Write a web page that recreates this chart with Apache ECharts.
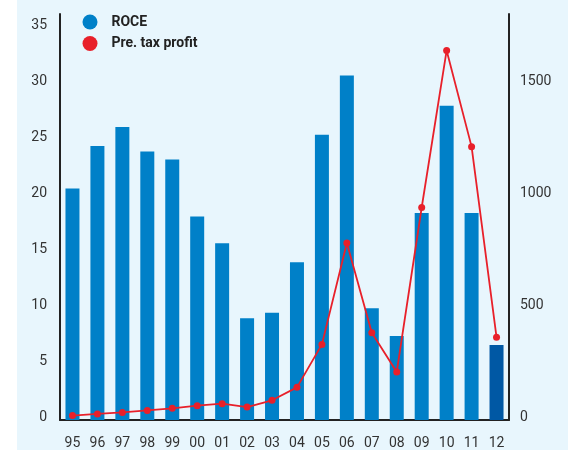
<!DOCTYPE html>
<html>
<head>
<meta charset="utf-8">
<script src="https://cdn.jsdelivr.net/npm/echarts@6/dist/echarts.min.js"></script>
<style>
  html, body { margin: 0; padding: 0; background: #fff; }
  #chart {
    width: 578px;
    height: 450px;
    background: linear-gradient(to right, #fff 0, #fff 17px, #e8f6fd 17px, #e8f6fd 568px, #fff 568px);
  }
</style>
</head>
<body>
<div id="chart"></div>
<script>
const years = ['95', '96', '97', '98', '99', '00', '01', '02', '03', '04', '05', '06', '07', '08', '09', '10', '11', '12']
const roce = [20.7, 24.5, 26.2, 24.0, 23.3, 18.2, 15.8, 9.1, 9.6, 14.1, 25.5, 30.8, 10.0, 7.5, 18.5, 28.1, 18.5, 6.7]
const profit = [20, 27, 34, 43, 52, 64, 73, 58, 88, 146, 338, 791, 390, 215, 950, 1652, 1222, 370]

const font = 'Roboto, "Liberation Sans", sans-serif'

let myChart = echarts.init(document.getElementById('chart'))

// labels in the original sit a few px above their ticks
const axisLabel = (margin) => ({
  showMaxLabel: false,
  margin: margin,
  fontSize: 14,
  color: '#333',
  fontFamily: font,
  verticalAlign: 'bottom',
  lineHeight: 6,
  formatter: (v) => String(v)
})

let option = {
  backgroundColor: 'transparent',
  animation: false,
  textStyle: { fontFamily: font },
  legend: {
    orient: 'vertical',
    left: 82.5,
    top: 14.5,
    padding: 0,
    itemWidth: 15,
    itemHeight: 15,
    itemGap: 6.5,
    icon: 'circle',
    formatter: (name) => '{t|' + name + '}',
    textStyle: {
      fontFamily: font,
      fontSize: 14,
      fontWeight: 'bold',
      color: '#222',
      rich: {
        t: { padding: [0, 0, 0, 9], fontFamily: font, fontSize: 14, fontWeight: 'bold', color: '#222' }
      }
    },
    data: ['ROCE', 'Pre. tax profit']
  },
  grid: {
    left: 60,
    right: 69,
    top: 14,
    bottom: 28.3
  },
  xAxis: {
    type: 'category',
    data: years,
    axisTick: { show: false },
    axisLine: { lineStyle: { color: '#222', width: 2 } },
    axisLabel: { margin: 16, fontSize: 14, color: '#333', fontFamily: font }
  },
  yAxis: [
    {
      type: 'value',
      min: 0,
      max: 36.3,
      interval: 5,
      splitLine: { show: false },
      axisTick: { show: false },
      axisLine: { show: true, lineStyle: { color: '#222', width: 2 } },
      axisLabel: axisLabel(13)
    },
    {
      type: 'value',
      min: 0,
      max: 1815,
      interval: 500,
      splitLine: { show: false },
      axisTick: { show: false },
      axisLine: { show: true, lineStyle: { color: '#222', width: 2 } },
      axisLabel: axisLabel(11)
    }
  ],
  series: [
    {
      name: 'ROCE',
      type: 'bar',
      barWidth: 14,
      itemStyle: { color: '#0080c8' },
      data: roce.map((v, i) => i === roce.length - 1 ? { value: v, itemStyle: { color: '#0058a4' } } : v)
    },
    {
      name: 'Pre. tax profit',
      type: 'line',
      yAxisIndex: 1,
      symbol: 'circle',
      symbolSize: 7,
      itemStyle: { color: '#e8202a' },
      lineStyle: { color: '#e8202a', width: 1.8 },
      data: profit
    }
  ]
}

myChart.setOption(option)
</script>
</body>
</html>
